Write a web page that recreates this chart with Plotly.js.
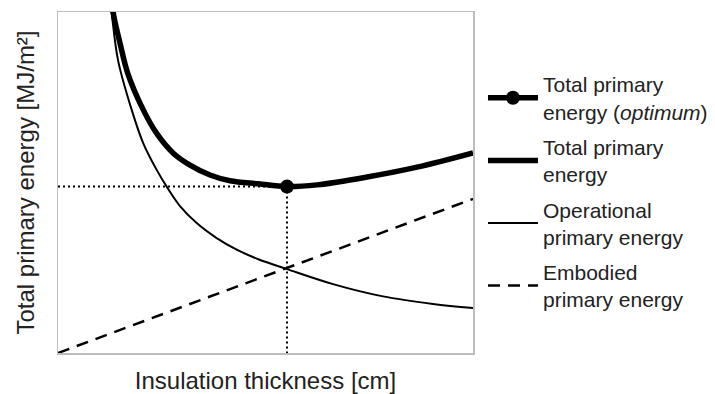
<!DOCTYPE html>
<html>
<head>
<meta charset="utf-8">
<script src="https://cdn.plot.ly/plotly-3.0.1.min.js"></script>
<style>html,body{margin:0;padding:0;background:#fff;}#chart{width:715px;height:394px;}</style>
</head>
<body>
<div id="chart"></div>
<script>
// Insulation thickness (relative units, no tick labels in reference)
const totalX = [12.89, 13.33, 14.94, 16.87, 20.55, 23.78, 27.78, 31.81, 36.63, 41.45, 48.27, 55.18, 62.41, 74.46, 86.51, 100];
const totalY = [105, 99.6, 90.9, 81.8, 71.3, 64.4, 58.6, 55.1, 52.2, 50.5, 49.6, 48.8, 49.3, 51.6, 54.5, 58.7];

const operX = [12.41, 12.94, 14.46, 17.76, 20.55, 23.78, 26.19, 29.40, 33.42, 38.24, 43.06, 48.27, 55.18, 66.27, 78.31, 90.36, 100];
const operY = [105, 99.7, 85.9, 71.3, 61.5, 53.7, 48.8, 43.1, 38.1, 33.7, 30.3, 27.5, 24.6, 20.2, 16.6, 14.4, 13.2];

const embX = [0, 20, 40, 55.18, 60, 80, 100];
const embY = [0, 9.0, 18.1, 24.8, 27.1, 36.2, 45.2];

const optX = [55.18];
const optY = [48.8];

const names = [
  'Total primary<br>energy (<i>optimum</i>)',
  'Total primary<br>energy',
  'Operational<br>primary energy',
  'Embodied<br>primary energy'
];

const ink = '#000000';
const traces = [
  {x: [0, optX[0]], y: [optY[0], optY[0]], mode: 'lines', line: {color: ink, width: 2, dash: '2px,3px'}, showlegend: false, hoverinfo: 'skip'},
  {x: [optX[0], optX[0]], y: [optY[0], 0], mode: 'lines', line: {color: ink, width: 2, dash: '2px,3px'}, showlegend: false, hoverinfo: 'skip'},
  {x: embX, y: embY, mode: 'lines', name: names[3], legendrank: 4, legendgroup: 'd', line: {color: ink, width: 2.5, dash: '12px,8px'}},
  {x: operX, y: operY, mode: 'lines', name: names[2], legendrank: 3, legendgroup: 'c', line: {color: ink, width: 2, shape: 'spline'}},
  {x: totalX, y: totalY, mode: 'lines', name: names[1], legendrank: 2, legendgroup: 'b', line: {color: ink, width: 5.5, shape: 'spline'}},
  {x: optX, y: optY, mode: 'lines+markers', name: names[0], legendrank: 1, legendgroup: 'a', line: {color: ink, width: 5.5}, marker: {color: ink, size: 14}}
];

const layout = {
  width: 715, height: 394,
  margin: {l: 58, r: 242, t: 12, b: 41},
  paper_bgcolor: '#fff', plot_bgcolor: '#fff',
  font: {family: 'Arial, "Liberation Sans", sans-serif', color: '#222', size: 21},
  showlegend: true,
  legend: {xref: 'container', yref: 'paper', x: 0.6755, xanchor: 'left', y: 0.8475, yanchor: 'top',
           font: {size: 21, color: '#222'}, tracegroupgap: 5, itemwidth: 50, bgcolor: 'rgba(0,0,0,0)'},
  xaxis: {range: [0, 100], showticklabels: false, ticks: '', showgrid: false, zeroline: false,
          showline: true, mirror: true, linecolor: '#bdbdbd', linewidth: 1.5,
          title: {text: 'Insulation thickness [cm]', font: {size: 24, color: '#222'}, standoff: 18}},
  yaxis: {range: [0, 100], showticklabels: false, ticks: '', showgrid: false, zeroline: false,
          showline: true, mirror: true, linecolor: '#bdbdbd', linewidth: 1.5,
          title: {text: 'Total primary energy [MJ/m²]', font: {size: 24, color: '#222'}, standoff: 15}},
  hovermode: false
};

Plotly.newPlot('chart', traces, layout, {staticPlot: true, displayModeBar: false});
</script>
</body>
</html>
